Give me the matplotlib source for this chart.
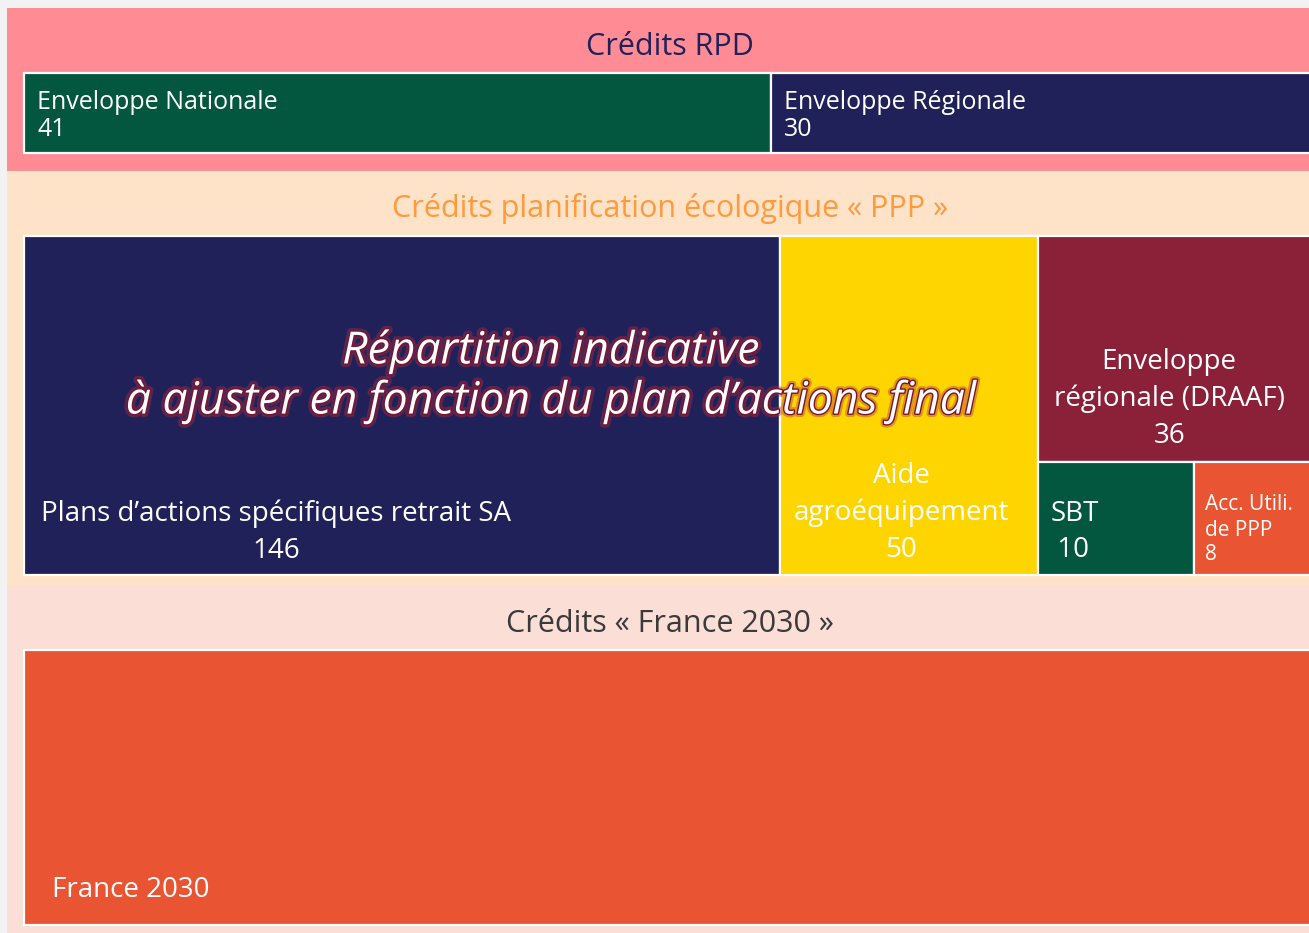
import matplotlib.pyplot as plt
import matplotlib.patheffects as pe
from matplotlib.patches import Rectangle

plt.rcParams['font.family'] = ['Open Sans', 'DejaVu Sans']

# Crédits RPD
rpd_labels = ['Enveloppe Nationale', 'Enveloppe Régionale']
rpd_values = [41, 30]
rpd_colors = ['#03573F', '#21215A']

# Crédits planification écologique « PPP »
ppp_labels = ['Plans d’actions spécifiques retrait SA', 'Aide\nagroéquipement',
              'Enveloppe\nrégionale (DRAAF)', 'SBT', 'Acc. Utili.\nde PPP']
ppp_values = [146, 50, 36, 10, 8]
ppp_colors = ['#21215A', '#FFD500', '#8B2039', '#03573F', '#E95433']

# Crédits « France 2030 »
fr_labels = ['France 2030']
fr_values = [1]
fr_colors = ['#E95433']

titles = ['Crédits RPD', 'Crédits planification écologique « PPP »', 'Crédits « France 2030 »']
title_colors = ['#21215A', '#FF9A3D', '#3A3A3A']
band_colors = ['#FF8C94', '#FEE3C9', '#FBDED6']

W, H = 1309, 933
fig = plt.figure(figsize=(W / 100, H / 100), dpi=100, facecolor='#F2F2F2')
ax = fig.add_axes([0, 0, 1, 1])
ax.set_xlim(0, W)
ax.set_ylim(H, 0)
ax.axis('off')

x0, full_w = 24, 1294
# band top, band bottom, title y, boxes top, boxes bottom
bands = [(8, 171, 47, 73, 153), (171, 585, 209, 236, 575), (585, 940, 624, 650, 925)]

for (bt, bb, ty, _, _), col, title, tc in zip(bands, band_colors, titles, title_colors):
    ax.add_patch(Rectangle((7, bt), W, bb - bt, facecolor=col, edgecolor='none'))
    ax.text(670, ty, title, ha='center', va='center', fontsize=22, color=tc)


def box(x, y, w, h, color):
    ax.add_patch(Rectangle((x, y), w, h, facecolor=color, edgecolor='white', lw=1.6))


# RPD row
_, _, _, top, bot = bands[0]
scale = full_w / sum(rpd_values)
x = x0
for lab, v, c in zip(rpd_labels, rpd_values, rpd_colors):
    w = v * scale
    box(x, top, w, bot - top, c)
    ax.text(x + 13, top + 43, lab + '\n' + str(v), ha='left', va='center',
            fontsize=18, color='white', linespacing=1.15)
    x += w

# PPP row
_, _, _, top, bot = bands[1]
scale = full_w / sum(ppp_values)
h = bot - top
x = x0
w0 = ppp_values[0] * scale
box(x, top, w0, h, ppp_colors[0])
ax.text(x + w0 / 3, bot - 43, ppp_labels[0] + '\n' + str(ppp_values[0]), ha='center',
        va='center', fontsize=20, color='white', linespacing=1.42)
x += w0
w1 = ppp_values[1] * scale
box(x, top, w1, h, ppp_colors[1])
ax.text(x + w1 / 2 - 8, bot - 62, ppp_labels[1] + '\n' + str(ppp_values[1]), ha='center',
        va='center', fontsize=20, color='white', linespacing=1.42)
x += w1
rest = ppp_values[2:]
wr = sum(rest) * scale
h2 = h * rest[0] / sum(rest)
box(x, top, wr, h2, ppp_colors[2])
ax.text(x + wr / 2 - 9, top + h2 / 2 + 50, ppp_labels[2] + '\n' + str(rest[0]), ha='center',
        va='center', fontsize=20, color='white', linespacing=1.42)
hb = h - h2
xs = x
for lab, v, c in zip(ppp_labels[3:], rest[1:], ppp_colors[3:]):
    ws = wr * v / sum(rest[1:])
    box(xs, top + h2, ws, hb, c)
    xs += ws
ws = wr * rest[1] / sum(rest[1:])
ax.text(x + 12, bot - 43, ppp_labels[3] + '\n ' + str(rest[1]), ha='left', va='center',
        fontsize=20, color='white', linespacing=1.42)
ax.text(x + ws + 11, bot - 45, ppp_labels[4] + '\n' + str(rest[2]), ha='left', va='center',
        fontsize=15, color='white', linespacing=1.25)

# France 2030 row
_, _, _, top, bot = bands[2]
box(x0, top, full_w * fr_values[0] / sum(fr_values), bot - top, fr_colors[0])
ax.text(x0 + 28, bot - 35, fr_labels[0], ha='left', va='center', fontsize=20, color='white')

# mention superposée
ax.text(551, 377, 'Répartition indicative\nà ajuster en fonction du plan d’actions final',
        ha='center', va='center', fontsize=32, style='italic', color='white',
        linespacing=1.15,
        path_effects=[pe.Stroke(linewidth=5, foreground='#B0303F', alpha=0.4),
                      pe.Stroke(linewidth=2, foreground='#7A1530'), pe.Normal()])

fig.savefig('out.png', dpi=100, facecolor=fig.get_facecolor())
